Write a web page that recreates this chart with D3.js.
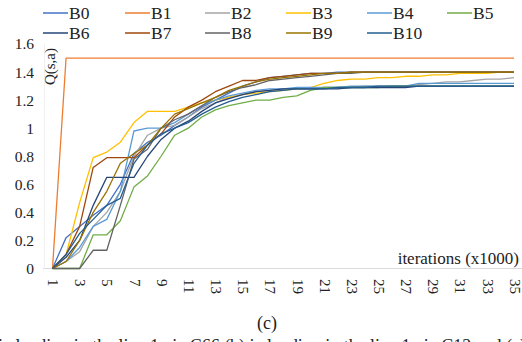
<!DOCTYPE html>
<html><head><meta charset="utf-8">
<script src="https://cdn.jsdelivr.net/npm/d3@7"></script>
<style>body{margin:0;background:#fff}svg{display:block}svg text{font-family:"Liberation Serif","Times New Roman","DejaVu Serif",serif !important;fill:#222}</style>
</head><body><svg id="c" width="522" height="342"></svg>
<script>
const iterations = d3.range(1, 36);
const xTickLabels = iterations.filter(d => d % 2 === 1);
const yTicks = [0, 0.2, 0.4, 0.6, 0.8, 1, 1.2, 1.4, 1.6];
const seriesNames = ["B0","B1","B2","B3","B4","B5","B6","B7","B8","B9","B10"];
const seriesColors = ["#4472C4","#ED7D31","#A5A5A5","#FFC000","#5B9BD5","#70AD47","#264478","#9E480E","#636363","#997300","#255E91"];

const B0 = [0,0.22,0.3,0.38,0.45,0.6,0.82,0.9,0.95,1.02,1.08,1.15,1.2,1.25,1.3,1.33,1.36,1.37,1.38,1.39,1.39,1.4,1.4,1.4,1.4,1.4,1.4,1.4,1.4,1.4,1.4,1.4,1.4,1.4,1.4];
const B1 = [0,1.5,1.5,1.5,1.5,1.5,1.5,1.5,1.5,1.5,1.5,1.5,1.5,1.5,1.5,1.5,1.5,1.5,1.5,1.5,1.5,1.5,1.5,1.5,1.5,1.5,1.5,1.5,1.5,1.5,1.5,1.5,1.5,1.5,1.5];
const B2 = [0,0.05,0.12,0.3,0.4,0.55,0.8,0.95,1.0,1.02,1.08,1.14,1.18,1.22,1.24,1.26,1.27,1.28,1.28,1.28,1.29,1.29,1.29,1.3,1.3,1.3,1.3,1.31,1.32,1.33,1.33,1.34,1.35,1.35,1.36];
const B3 = [0,0.1,0.47,0.79,0.83,0.9,1.04,1.12,1.12,1.12,1.15,1.18,1.2,1.22,1.24,1.25,1.26,1.27,1.28,1.29,1.32,1.34,1.35,1.35,1.36,1.36,1.37,1.37,1.38,1.38,1.39,1.39,1.39,1.4,1.4];
const B4 = [0,0.05,0.15,0.3,0.35,0.55,0.98,1.0,1.0,1.04,1.1,1.16,1.2,1.23,1.25,1.27,1.28,1.28,1.29,1.29,1.29,1.29,1.3,1.3,1.3,1.3,1.3,1.32,1.32,1.32,1.32,1.32,1.32,1.32,1.32];
const B5 = [0,0,0,0.24,0.24,0.34,0.58,0.66,0.8,0.95,1.0,1.08,1.13,1.16,1.18,1.2,1.2,1.22,1.23,1.27,1.29,1.29,1.29,1.29,1.29,1.3,1.3,1.3,1.3,1.3,1.3,1.3,1.3,1.3,1.3];
const B6 = [0,0.08,0.2,0.45,0.65,0.65,0.65,0.8,0.92,1.0,1.05,1.12,1.18,1.21,1.24,1.26,1.27,1.28,1.28,1.28,1.28,1.28,1.29,1.29,1.29,1.29,1.29,1.3,1.3,1.3,1.3,1.3,1.3,1.3,1.3];
const B7 = [0,0.1,0.3,0.72,0.79,0.79,0.79,0.88,0.96,1.08,1.15,1.2,1.26,1.3,1.34,1.34,1.36,1.37,1.38,1.39,1.39,1.39,1.4,1.4,1.4,1.4,1.4,1.4,1.4,1.4,1.4,1.4,1.4,1.4,1.4];
const B8 = [0,0,0,0.13,0.13,0.45,0.78,0.85,1.0,1.06,1.1,1.16,1.22,1.26,1.29,1.31,1.34,1.35,1.36,1.37,1.38,1.39,1.39,1.4,1.4,1.4,1.4,1.4,1.4,1.4,1.4,1.4,1.4,1.4,1.4];
const B9 = [0,0.05,0.2,0.4,0.55,0.75,0.82,0.88,1.0,1.1,1.14,1.18,1.22,1.27,1.3,1.33,1.35,1.36,1.37,1.38,1.39,1.39,1.4,1.4,1.4,1.4,1.4,1.4,1.4,1.4,1.4,1.4,1.4,1.4,1.4];
const B10 = [0,0.1,0.25,0.35,0.45,0.5,0.75,0.88,0.96,1.0,1.04,1.1,1.15,1.19,1.22,1.24,1.26,1.27,1.28,1.28,1.28,1.29,1.29,1.29,1.3,1.3,1.3,1.3,1.3,1.3,1.3,1.3,1.3,1.3,1.3];
const seriesValues = [B0,B1,B2,B3,B4,B5,B6,B7,B8,B9,B10];

const FONT = "'Liberation Serif','Times New Roman','DejaVu Serif',serif";
const svg = d3.select("#c").attr("font-family", FONT);
const x = d3.scalePoint().domain(iterations).range([52.5, 514]);
const y = d3.scaleLinear().domain([0, 1.6]).range([268.5, 44]);

svg.append("line").attr("x1",43).attr("x2",522).attr("y1",y(0)).attr("y2",y(0)).attr("stroke","#d9d9d9").attr("stroke-width",1);
svg.append("line").attr("x1",44.5).attr("x2",44.5).attr("y1",y(1.6)).attr("y2",y(0)).attr("stroke","#f0f0f0").attr("stroke-width",1);

const yAxis = d3.axisLeft(y).tickValues(yTicks).tickSize(0).tickPadding(0).tickFormat(d => String(+d.toFixed(1)));
const gy = svg.append("g").attr("transform","translate(34,0)").call(yAxis).attr("font-family", FONT);
gy.select(".domain").remove();
gy.selectAll("text").attr("font-size",15.5).attr("fill","#222").style("font-family", FONT).attr("dy","0.32em");

const xAxis = d3.axisBottom(x).tickValues(xTickLabels).tickSize(0).tickPadding(0);
const gx = svg.append("g").attr("transform","translate(0,279)").call(xAxis).attr("font-family", FONT);
gx.select(".domain").remove();
gx.selectAll("text").attr("font-size",15).attr("fill","#222").style("font-family", FONT)
  .attr("transform","rotate(90)").attr("text-anchor","start").attr("x",0).attr("y",0).attr("dy","0.32em");

const line = d3.line().x((d,i) => x(iterations[i])).y(d => y(d));
seriesValues.forEach((vals, k) => {
  svg.append("path").datum(vals).attr("d", line).attr("fill","none")
    .attr("stroke", seriesColors[k]).attr("stroke-width",1.3).attr("stroke-linejoin","round");
});

svg.append("text").attr("transform","translate(55,48) rotate(-90)").attr("text-anchor","end").attr("font-size",15).style("font-family", FONT).text("Q(s,a)");
svg.append("text").attr("x",519).attr("y",264).attr("text-anchor","end").attr("font-size",17).style("font-family", FONT).text("iterations (x1000)");

const legX = [43,125,205,286,367,447];
const legend = svg.append("g");
seriesNames.forEach((n, k) => {
  const col = k % 6, row = Math.floor(k / 6);
  const lx = legX[col], ly = row === 0 ? 13 : 33;
  legend.append("line").attr("x1",lx).attr("x2",lx+25).attr("y1",ly).attr("y2",ly).attr("stroke",seriesColors[k]).attr("stroke-width",1.5);
  legend.append("text").attr("x",lx+26).attr("y",ly).attr("dy","0.35em").attr("font-size",17.5).style("font-family", FONT).text(n);
});

svg.append("text").attr("x",267).attr("y",329).attr("text-anchor","middle").attr("font-size",18).style("font-family", FONT).text("(c)");
svg.append("text").attr("x",-2).attr("y",352).attr("font-size",18).attr("textLength",528).attr("lengthAdjust","spacing").style("font-family", FONT).text("ic loading in the line 1 via C66 (b) ic loading in the line 1 via C12 and (c)");
</script></body></html>
